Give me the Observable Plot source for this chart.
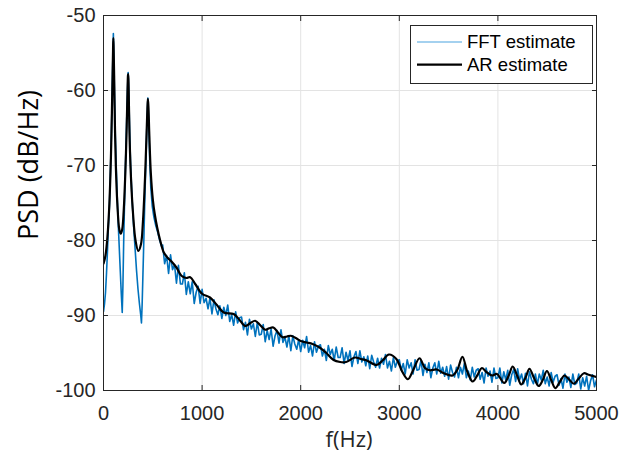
<!DOCTYPE html>
<html><head><meta charset="utf-8">
<script src="https://cdn.jsdelivr.net/npm/d3@7"></script>
<script src="https://cdn.jsdelivr.net/npm/@observablehq/plot@0.6"></script>
<style>
body{margin:0;background:#fff;}
#chart{position:relative;width:619px;height:455px;}
</style>
</head><body><div id="chart"></div>
<script>
// ---- data ----
const xTicks = [0, 1000, 2000, 3000, 4000, 5000];
const yTicks = [-100, -90, -80, -70, -60, -50];
const seriesNames = ["FFT estimate", "AR estimate"];
const xLabel = "f(Hz)";
const yLabel = "PSD (dB/Hz)";

// FFT estimate, low-frequency region (explicit frequencies)
const fftLowFreq = [0,10,20,30,40,50,60,70,80,90,95,100,105,110,120,130,140,150,160,170,180,190,197,205,215,225,235,243,250,257,265,275,290,305,320,335,350,365,378,385,392,400,410,420,430,440,450,458,468,480,495,510,530,550,570,590];
const fftLowPsd  = [-89.5,-88.5,-87,-84.5,-81.5,-78,-75.5,-71,-66,-59,-55.5,-52.4,-55.5,-59.5,-66,-70.5,-74.5,-78,-81,-84,-87,-89.6,-86,-80,-74,-69,-64,-60,-57.6,-60.5,-65.5,-70,-74.5,-78,-81,-84,-86.5,-88.5,-90,-91,-88.5,-84.5,-79.5,-74,-69.5,-64.5,-61,-64,-69,-73,-75.5,-76.8,-78,-78.9,-80,-80.8];

// FFT estimate, 600 Hz to 5000 Hz, one value every 20 Hz
const fftHighStart = 600;
const fftHighStep = 20;
const fftHighPsd = [
-80.6,-83.1,-82.0,-84.4,-81.9,-83.9,-83.2,-85.7,-83.3,-85.8,
-85.8,-84.3,-87.2,-85.5,-87.1,-85.5,-88.4,-86.9,-86.1,-88.4,
-86.5,-88.3,-87.7,-89.1,-87.7,-89.8,-87.9,-89.1,-89.9,-88.7,
-90.4,-88.9,-90.0,-88.6,-90.8,-89.9,-91.3,-89.5,-91.0,-90.3,
-90.2,-91.9,-90.9,-92.6,-90.5,-91.8,-91.1,-92.8,-90.9,-92.6,
-92.5,-91.2,-93.5,-92.0,-93.2,-91.8,-94.1,-92.7,-92.0,-93.7,
-91.9,-93.6,-92.9,-94.2,-92.7,-94.7,-92.7,-93.8,-94.5,-93.2,
-94.8,-93.3,-94.3,-92.8,-94.9,-94.0,-95.4,-93.5,-94.9,-94.1,
-93.9,-95.4,-94.5,-96.0,-94.0,-95.2,-94.5,-96.0,-94.2,-95.6,
-95.6,-94.3,-96.4,-94.9,-96.0,-94.7,-96.8,-95.5,-94.8,-96.4,
-94.7,-96.2,-95.5,-96.7,-95.4,-97.1,-95.3,-96.2,-96.9,-95.7,
-97.0,-95.7,-96.5,-95.2,-97.0,-96.1,-97.4,-95.6,-96.9,-96.1,
-95.9,-97.3,-96.4,-97.8,-95.9,-97.0,-96.3,-97.8,-95.9,-97.3,
-97.2,-96.0,-98.0,-96.5,-97.6,-96.3,-98.3,-97.0,-96.3,-97.8,
-96.1,-97.7,-96.9,-98.1,-96.8,-98.5,-96.6,-97.6,-98.2,-96.9,
-98.3,-96.9,-97.8,-96.4,-98.3,-97.4,-98.6,-96.9,-98.2,-97.3,
-97.1,-98.5,-97.6,-99.0,-97.0,-98.1,-97.4,-98.9,-97.0,-98.4,
-98.3,-97.0,-99.0,-97.5,-98.6,-97.3,-99.3,-97.9,-97.2,-98.8,
-97.1,-98.6,-97.8,-99.1,-97.7,-99.4,-97.5,-98.5,-99.1,-97.8,
-99.2,-97.8,-98.6,-97.3,-99.1,-98.2,-99.4,-97.6,-98.9,-98.1,
-97.9,-99.3,-98.4,-99.7,-97.8,-98.9,-98.2,-99.6,-97.8,-99.2,
-99.0,-97.8,-99.8,-98.3,-99.4,-98.1,-100.0,-98.7,-97.9,-99.5,-98.6
];

// AR estimate
const arFreq = [0,20,40,60,75,85,92,97,100,103,108,115,125,140,160,175,190,205,220,233,242,248,250,253,258,265,280,300,325,353,380,400,420,435,445,450,455,465,480,500,520,545,575,612,650,690,740,790,840,880,930,1000,1080,1150,1220,1320,1380,1437,1490,1538,1590,1640,1680,1723,1765,1815,1860,1900,1950,2000,2060,2120,2195,2260,2330,2400,2460,2550,2610,2670,2770,2830,2895,2970,3030,3087,3140,3205,3260,3310,3380,3450,3540,3590,3640,3690,3744,3790,3838,3880,3940,3990,4064,4110,4150,4195,4237,4280,4320,4365,4414,4455,4497,4540,4583,4630,4675,4720,4771,4820,4872,4920,5000];
const arPsd  = [-83.1,-82,-79.5,-75,-69,-63,-58,-54.5,-53,-54.5,-58,-64,-70,-75,-78.5,-79.1,-78.5,-76,-71.5,-66,-61,-58,-57.8,-58.5,-62,-66.5,-72,-76.5,-80,-81.4,-80.5,-77.5,-72,-66.5,-62.5,-61.1,-62,-66,-71,-74.5,-76.5,-78.3,-80,-81.6,-82.3,-82.8,-83.6,-84.7,-85.0,-84.9,-85.8,-87.1,-87.6,-88.6,-89.6,-89.8,-90.6,-91.4,-91.0,-90.7,-91.3,-91.9,-91.7,-91.6,-92.2,-92.9,-92.8,-92.7,-93.0,-93.4,-93.6,-93.8,-94.3,-95.0,-95.9,-96.2,-96.2,-95.6,-95.8,-96.0,-96.6,-96.0,-95.2,-95.8,-97.5,-98.5,-97.3,-95.7,-97.0,-97.3,-97.2,-97.7,-98.0,-97.2,-95.5,-97.5,-98.8,-98.0,-97.0,-97.5,-98.0,-97.8,-99.0,-98.0,-96.8,-98.0,-99.2,-98.3,-97.1,-98.3,-99.4,-98.6,-97.4,-98.6,-99.7,-98.8,-98.0,-98.5,-99.1,-98.4,-97.7,-97.9,-98.2];

// ---- build tables ----
const fft = fftLowFreq.map((f, i) => ({f, p: fftLowPsd[i]}))
  .concat(fftHighPsd.map((p, i) => ({f: fftHighStart + i * fftHighStep, p})));
const ar = arFreq.map((f, i) => ({f, p: arPsd[i]}));

const axisColor = "#262626";
const fftColor = "#0072BD";
const arColor = "#000000";
const plain = d => String(d);

const plot = Plot.plot({
  width: 619, height: 455,
  marginLeft: 103, marginRight: 23, marginTop: 15, marginBottom: 65,
  style: {fontFamily: "'Liberation Sans', Arial, sans-serif", fontSize: "20px", color: axisColor, background: "#fff", overflow: "visible"},
  x: {domain: [0, 5000], ticks: xTicks, label: null},
  y: {domain: [-100, -50], ticks: yTicks, label: null},
  marks: [
    Plot.gridX(xTicks, {stroke: "#e3e3e3", strokeOpacity: 1}),
    Plot.gridY(yTicks, {stroke: "#e3e3e3", strokeOpacity: 1}),
    Plot.line(fft, {x: "f", y: "p", stroke: fftColor, strokeWidth: 1.6, clip: true}),
    Plot.line(ar, {x: "f", y: "p", stroke: arColor, strokeWidth: 2.2, curve: "catmull-rom", clip: true}),
    Plot.frame({stroke: axisColor}),
    Plot.axisX(xTicks, {anchor: "bottom", tickSize: -5, tickPadding: 20, tickFormat: plain, label: null}),
    Plot.axisX(xTicks, {anchor: "top", tickSize: -5, tickFormat: () => "", label: null}),
    Plot.axisY(yTicks, {anchor: "left", tickSize: -5, tickPadding: 13, tickFormat: plain, label: null}),
    Plot.axisY(yTicks, {anchor: "right", tickSize: -5, tickFormat: () => "", label: null})
  ]
});
document.getElementById("chart").appendChild(plot);

// axis titles and legend
const svg = d3.select(plot);
svg.append("text")
  .attr("x", 349).attr("y", 447)
  .attr("text-anchor", "middle")
  .attr("font-family", "'Open Sans', sans-serif")
  .attr("font-size", 22).attr("fill", axisColor)
  .text(xLabel);
svg.append("text")
  .attr("transform", "translate(38,165) rotate(-90)")
  .attr("text-anchor", "middle")
  .attr("font-family", "'Open Sans', sans-serif")
  .attr("font-size", 27).attr("fill", "#000")
  .text(yLabel);

const lg = svg.append("g");
lg.append("rect").attr("x", 410.5).attr("y", 25.5).attr("width", 182).attr("height", 58)
  .attr("fill", "#fff").attr("stroke", axisColor).attr("stroke-width", 1);
const legendColors = ["#4aa3df", arColor];
const legendWidths = [1.2, 2.2];
seriesNames.forEach((name, i) => {
  const y = 42 + i * 22.6;
  lg.append("line").attr("x1", 417).attr("x2", 462).attr("y1", y).attr("y2", y)
    .attr("stroke", legendColors[i]).attr("stroke-width", legendWidths[i]);
  lg.append("text").attr("x", 467).attr("y", y).attr("dy", "0.35em")
    .attr("text-anchor", "start")
    .attr("font-family", "'Liberation Sans', Arial, sans-serif")
    .attr("font-size", 18.5).attr("fill", "#000").text(name);
});
</script>
</body></html>
